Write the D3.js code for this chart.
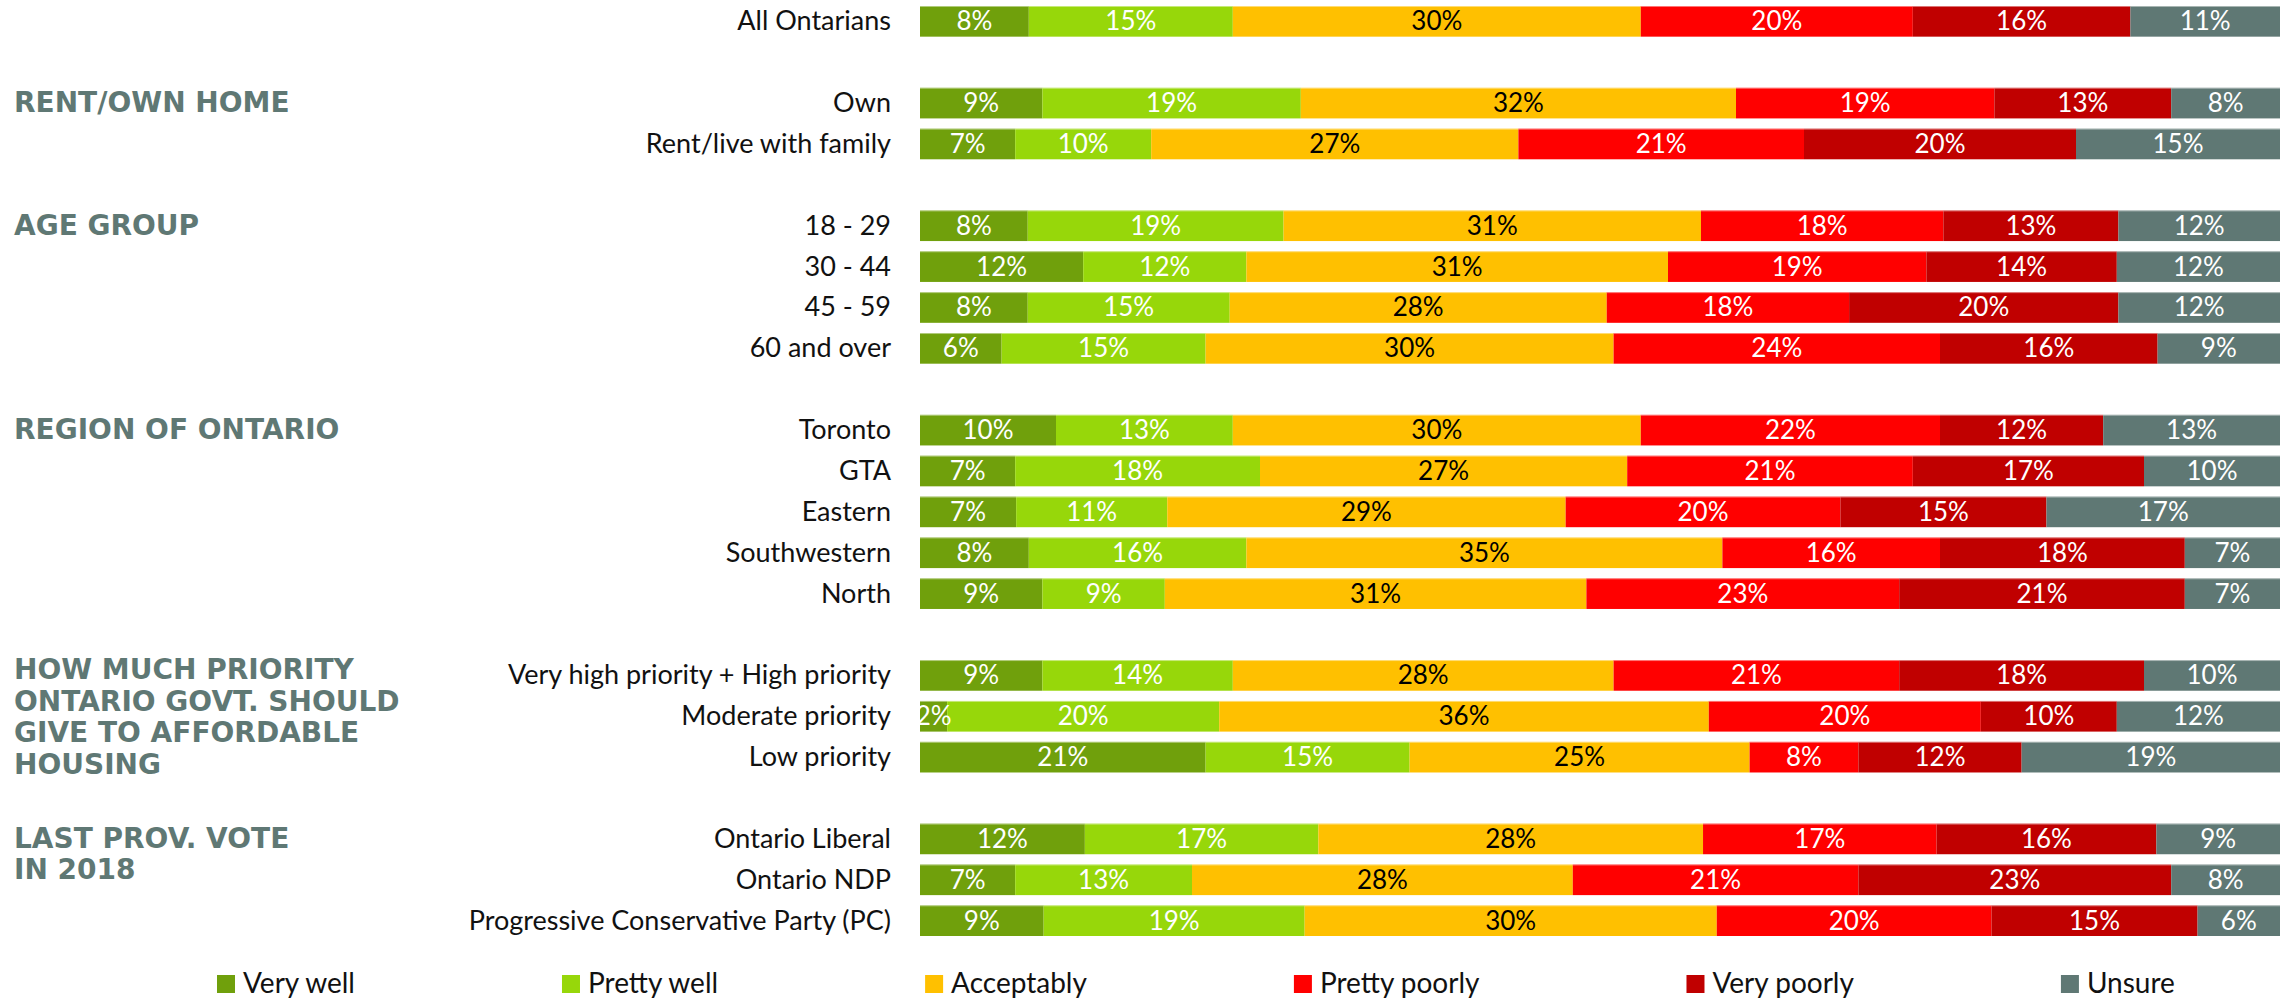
<!DOCTYPE html>
<html>
<head>
<meta charset="utf-8">
<script src="https://cdn.jsdelivr.net/npm/d3@7"></script>
<style>
  body { margin: 0; background: #fff; }
  svg { display: block; }
  text { font-family: Lato, 'Open Sans', sans-serif; }
  text.heading { font-family: 'DejaVu Sans', sans-serif; font-weight: bold; }
</style>
</head>
<body>
<svg></svg>
<script>
'use strict'

const width = 2285
const height = 1000

// null = empty spacer row between groups
const rows = ['All Ontarians', null,
    'Own', 'Rent/live with family', null,
    '18 - 29', '30 - 44', '45 - 59', '60 and over', null,
    'Toronto', 'GTA', 'Eastern', 'Southwestern', 'North', null,
    'Very high priority + High priority', 'Moderate priority', 'Low priority', null,
    'Ontario Liberal', 'Ontario NDP', 'Progressive Conservative Party (PC)']

const series = ['Very well', 'Pretty well', 'Acceptably', 'Pretty poorly', 'Very poorly', 'Unsure']
const colors = ['#70a00c', '#97d70a', '#ffc000', '#ff0000', '#c00000', '#5f7874']

const veryWell     = [8, 9, 7, 8, 12, 8, 6, 10, 7, 7, 8, 9, 9, 2, 21, 12, 7, 9]
const prettyWell   = [15, 19, 10, 19, 12, 15, 15, 13, 18, 11, 16, 9, 14, 20, 15, 17, 13, 19]
const acceptably   = [30, 32, 27, 31, 31, 28, 30, 30, 27, 29, 35, 31, 28, 36, 25, 28, 28, 30]
const prettyPoorly = [20, 19, 21, 18, 19, 18, 24, 22, 21, 20, 16, 23, 21, 20, 8, 17, 21, 20]
const veryPoorly   = [16, 13, 20, 13, 14, 20, 16, 12, 17, 15, 18, 21, 18, 10, 12, 16, 23, 15]
const unsure       = [11, 8, 15, 12, 12, 12, 9, 13, 10, 17, 7, 7, 10, 12, 19, 9, 8, 6]

const headings = [
    { row: 'Own', lines: ['RENT/OWN HOME'] },
    { row: '18 - 29', lines: ['AGE GROUP'] },
    { row: 'Toronto', lines: ['REGION OF ONTARIO'] },
    { row: 'Very high priority + High priority', lines: ['HOW MUCH PRIORITY', 'ONTARIO GOVT. SHOULD', 'GIVE TO AFFORDABLE', 'HOUSING'] },
    { row: 'Ontario Liberal', lines: ['LAST PROV. VOTE', 'IN 2018'] }
]

const values = [veryWell, prettyWell, acceptably, prettyPoorly, veryPoorly, unsure]
const categories = rows.filter(r => r)
const table = categories.map((c, i) => {
    const d = { category: c }
    series.forEach((s, j) => d[s] = values[j][i])
    return d
})

const svg = d3.select('svg').attr('width', width).attr('height', height)

const x = d3.scaleLinear().domain([0, 1]).range([920, 2280])
const y = d3.scaleBand().domain(d3.range(rows.length)).range([6, 936]).paddingInner(0.25).paddingOuter(0)
const color = d3.scaleOrdinal().domain(series).range(colors)
const rowY = c => y(rows.indexOf(c))

const stacked = d3.stack().keys(series).offset(d3.stackOffsetExpand)(table)

svg.append('clipPath').attr('id', 'plot')
    .append('rect').attr('x', x(0)).attr('y', 0).attr('width', x(1) - x(0)).attr('height', height)

const layer = svg.append('g').selectAll('g')
    .data(stacked)
    .join('g')
    .attr('fill', d => color(d.key))

layer.selectAll('rect')
    .data(d => d)
    .join('rect')
    .attr('x', d => x(d[0]))
    .attr('y', d => rowY(d.data.category))
    .attr('width', d => x(d[1]) - x(d[0]))
    .attr('height', y.bandwidth())

// faint light edge along the top of each segment
layer.selectAll('line')
    .data(d => d)
    .join('line')
    .attr('x1', d => x(d[0]))
    .attr('x2', d => x(d[1]))
    .attr('y1', d => rowY(d.data.category) + 0.5)
    .attr('y2', d => rowY(d.data.category) + 0.5)
    .attr('stroke', '#fff')
    .attr('stroke-opacity', 0.45)

const labels = svg.append('g').attr('clip-path', 'url(#plot)')
stacked.forEach(s => {
    labels.append('g').selectAll('text')
        .data(s)
        .join('text')
        .attr('x', d => (x(d[0]) + x(d[1])) / 2)
        .attr('y', d => rowY(d.data.category) + y.bandwidth() / 2 + 9)
        .attr('text-anchor', 'middle')
        .attr('font-size', 26)
        .attr('fill', s.key === 'Acceptably' ? '#000' : '#fff')
        .text(d => d.data[s.key] + '%')
})

// category names
svg.append('g').selectAll('text')
    .data(categories)
    .join('text')
    .attr('x', 891)
    .attr('y', d => rowY(d) + y.bandwidth() / 2 + 9)
    .attr('text-anchor', 'end')
    .attr('font-size', 27)
    .attr('fill', '#111')
    .text(d => d)

// group headings on the left
const head = svg.append('g').selectAll('text')
    .data(headings)
    .join('text')
    .attr('class', 'heading')
    .attr('x', 14)
    .attr('y', d => rowY(d.row) + y.bandwidth() / 2 + (d.lines.length > 3 ? 4 : 9))
    .attr('font-size', 28)
    .attr('fill', '#5f7874')

head.selectAll('tspan')
    .data(d => d.lines)
    .join('tspan')
    .attr('x', 14)
    .attr('dy', (d, i) => i ? 31.5 : 0)
    .text(d => d)

// legend, laid out left to right
const legend = svg.append('g')
let lx = 217
series.forEach(s => {
    legend.append('rect')
        .attr('x', lx).attr('y', 975)
        .attr('width', 18).attr('height', 18)
        .attr('fill', color(s))
    const t = legend.append('text')
        .attr('x', lx + 26).attr('y', 993)
        .attr('font-size', 28)
        .attr('fill', '#111')
        .text(s)
    lx += 26 + t.node().getComputedTextLength() + 207
})
</script>
</body>
</html>
